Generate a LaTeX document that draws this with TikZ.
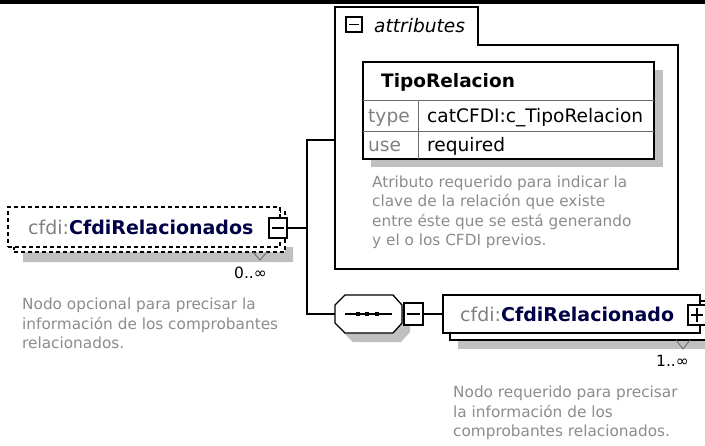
\documentclass[tikz,border=0pt]{standalone}
\usepackage{fontspec}
\setmainfont{DejaVu Sans}
\definecolor{descgray}{RGB}{140,140,140}
\definecolor{prefixgray}{RGB}{128,128,128}
\definecolor{namenavy}{RGB}{0,0,70}
\definecolor{shadowgray}{RGB}{192,192,192}
\definecolor{gridgray}{RGB}{110,110,110}
\begin{document}
\begin{tikzpicture}[x=1pt,y=-1pt,line join=miter,
  conn/.style={line width=1.3pt},
  btn/.style={draw=black, line width=2pt, fill=white, inner sep=0pt, outer sep=0pt},
  desc/.style={font=\fontsize{15.3}{19.5}\selectfont, text=descgray, align=left, anchor=north west, inner sep=0pt},
  lbl/.style={inner sep=0pt, anchor=base west},
  ename/.style={lbl, font=\fontsize{19}{23}\selectfont},
  tblfont/.style={lbl, font=\fontsize{18.6}{22}\selectfont},
  multfont/.style={inner sep=0pt, anchor=base east, font=\fontsize{15.5}{18}\selectfont},
  shadowfill/.style={fill=shadowgray},
  ebox/.style={draw=black, fill=white, line width=1.3pt, inner sep=0pt, outer sep=0pt, anchor=north west},
  dbox/.style={ebox, dash pattern=on 4pt off 3pt}
]
\useasboundingbox (0,0) rectangle (705,445);
\fill[white] (0,0) rectangle (705,445);
\fill[black] (0,0) rectangle (705,4);

% ---------- attributes group ----------
\draw[line width=1.4pt, fill=white] (335,7) -- (478,7) -- (478,45) -- (678,45) -- (678,269) -- (335,269) -- cycle;
\coordinate (attrin) at (335,140);
\node[btn, minimum width=16pt, minimum height=15pt] (attrbtn) at (354,24.5) {};
\draw[line width=1.5pt] ([xshift=3pt]attrbtn.west) -- ([xshift=-3pt]attrbtn.east);
\node[lbl, font=\itshape\fontsize{18.6}{22}\selectfont] (attrlbl) at (374,32) {attributes};

% table
\fill[shadowfill] (371,70) rectangle (663,167);
\node[ebox, line width=1.4pt, minimum width=291pt, minimum height=97pt] (tbl) at (363,62) {};
\draw[line width=0.9pt, gridgray] (363,100) -- (654,100);
\draw[line width=0.9pt, gridgray] (363,131) -- (654,131);
\draw[line width=0.9pt, gridgray] (418,100) -- (418,159);
\node[tblfont, font=\bfseries\fontsize{18.5}{22}\selectfont] (tipo) at (381,87) {TipoRelacion};
\node[tblfont, text=prefixgray] (typek) at (368,122) {type};
\node[tblfont] (typev) at (427,122) {catCFDI:c\_TipoRelacion};
\node[tblfont, text=prefixgray] (usek) at (368,151) {use};
\node[tblfont] (usev) at (427,151) {required};
\node[desc] (attrdesc) at (372,175.5) {Atributo requerido para indicar la\\clave de la relación que existe\\entre éste que se está generando\\y el o los CFDI previos.};

% ---------- cfdi:CfdiRelacionados ----------
\fill[shadowfill] (23,252) -- (285,252) -- (285,247) -- (293,247) -- (293,262) -- (23,262) -- cycle;
\node[dbox, minimum width=271pt, minimum height=40pt] (relsback) at (14,212) {};
\node[dbox, minimum width=272pt, minimum height=40pt] (relsfront) at (8,207) {};
\draw[line width=0.9pt, gridgray] (253,252) -- (260,260) -- (267,252);
\node[ename] (relsname) at (28,234) {\textcolor{prefixgray}{cfdi:}\textcolor{namenavy}{\bfseries CfdiRelacionados}};
\node[btn, minimum width=18pt, minimum height=20pt] (relsbtn) at (278,228) {};
\draw[line width=1.5pt] ([xshift=3pt]relsbtn.west) -- ([xshift=-3pt]relsbtn.east);
\node[multfont] (relsmult) at (267,278) {0..∞};
\node[desc] (relsdesc) at (22,298) {Nodo opcional para precisar la\\información de los comprobantes\\relacionados.};

% ---------- sequence ----------
\fill[shadowfill] (343,314) -- (353,304) -- (401,304) -- (410,314) -- (410,332) -- (401,342) -- (353,342) -- (343,332) -- cycle;
\draw[line width=1.3pt, fill=white] (335,305) -- (345,295) -- (393,295) -- (402,305) -- (402,323) -- (393,333) -- (345,333) -- (335,323) -- cycle;
\coordinate (seqin) at (335,314);
\draw[line width=1.3pt] (345,314) -- (392,314);
\fill[black] (356,312) rectangle (360,316);
\fill[black] (365,312) rectangle (369,316);
\fill[black] (375,312) rectangle (379,316);
\node[btn, minimum width=19pt, minimum height=22pt] (seqbtn) at (413,314) {};
\draw[line width=1.5pt] ([xshift=3pt]seqbtn.west) -- ([xshift=-3pt]seqbtn.east);

% ---------- cfdi:CfdiRelacionado ----------
\fill[shadowfill] (458,310) rectangle (712,349);
\node[ebox, minimum width=256pt, minimum height=39pt] (relback) at (450,301) {};
\node[ebox, minimum width=257pt, minimum height=38pt] (relfront) at (443,295) {};
\draw[line width=0.9pt, gridgray] (676,340) -- (683,349) -- (690,340);
\node[ename] (relname) at (460,321) {\textcolor{prefixgray}{cfdi:}\textcolor{namenavy}{\bfseries CfdiRelacionado}};
\node[btn, minimum width=18pt, minimum height=20pt] (relbtn) at (697,315) {};
\draw[line width=1.5pt] ([xshift=3pt]relbtn.west) -- ([xshift=-3pt]relbtn.east);
\draw[line width=1.5pt] ([yshift=-3pt]relbtn.north) -- ([yshift=3pt]relbtn.south);
\node[multfont] (relmult) at (689,366) {1..∞};
\node[desc] (reldesc) at (453,386) {Nodo requerido para precisar\\la información de los\\comprobantes relacionados.};

% ---------- connectors ----------
\coordinate (junc) at (307,228);
\draw[conn] (relsbtn.east) -- (junc);
\draw[conn] (attrin) -| (junc) |- (seqin);
\draw[conn] (seqbtn.east) -- (relfront.west);
\end{tikzpicture}
\end{document}
